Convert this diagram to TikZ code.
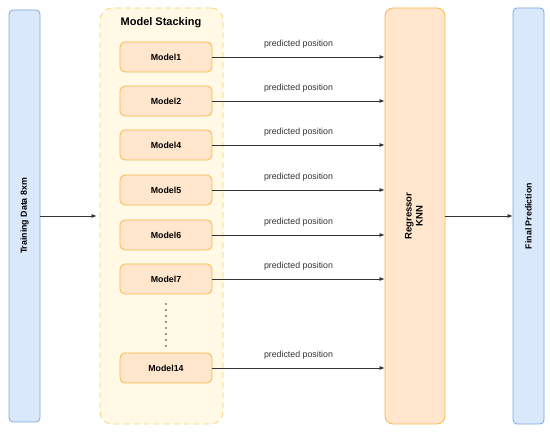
\documentclass[tikz,border=0pt]{standalone}
\usepackage{fontspec}
\setmainfont{Liberation Sans}
\usepackage{xcolor}
\usetikzlibrary{arrows.meta}

\definecolor{blueFill}{HTML}{DAE8FC}
\definecolor{blueLine}{HTML}{7EA6E0}
\definecolor{orangeFill}{HTML}{FFE6CC}
\definecolor{orangeLine}{HTML}{F7B849}
\definecolor{stackFill}{HTML}{FFF9E6}
\definecolor{stackLine}{HTML}{F5D27F}
\definecolor{arrowGray}{HTML}{333333}

\begin{document}
\begin{tikzpicture}[x=1pt, y=-1pt,
    databox/.style={draw=blueLine, fill=blueFill, rounded corners=4pt, line width=0.8pt,
        minimum width=31pt, inner sep=0pt},
    modelbox/.style={draw=orangeLine, fill=orangeFill, rounded corners=5pt, line width=0.8pt,
        minimum width=92pt, minimum height=30pt, inner sep=0pt,
        font=\fontsize{8.8}{10}\selectfont\bfseries},
    flow/.style={-{Latex[length=5pt,width=4pt]}, draw=arrowGray, line width=0.7pt},
    predlabel/.style={above=5pt, font=\fontsize{8.8}{10}\selectfont, text=arrowGray}]
    \useasboundingbox (0,0) rectangle (550,433);

    % stacking container
    \node[draw=stackLine, fill=stackFill, dashed, dash pattern=on 6pt off 4pt, line width=0.8pt,
        rounded corners=12pt, minimum width=123pt, minimum height=416pt] (stack) at (161.5,216) {};
    \node[font=\fontsize{11}{13}\selectfont\bfseries] (title) at (161,23) {Model Stacking};

    % input and output
    \node[databox, minimum height=412pt] (train) at (24.5,216)
        {\rotatebox{90}{\fontsize{8.8}{10}\selectfont\bfseries Training Data 8xm}};
    \node[draw=orangeLine, fill=orangeFill, rounded corners=8pt, line width=0.8pt,
        minimum width=60pt, minimum height=416pt] (reg) at (415,216)
        {\rotatebox{90}{\fontsize{9.5}{11}\selectfont\bfseries\begin{tabular}{c}Regressor\\KNN\end{tabular}}};
    \node[databox, minimum height=416pt] (final) at (528.5,216)
        {\rotatebox{90}{\fontsize{8.8}{10}\selectfont\bfseries Final Prediction}};

    % base models
    \foreach \name/\ypos in {1/57, 2/101, 4/145, 5/190, 6/235, 7/279, 14/368} {
        \node[modelbox] (m\name) at (166,\ypos) {Model\name};
        \draw[flow] (m\name.east) -- node[predlabel] {predicted position} (m\name.east -| reg.west);
    }
    \foreach \ydot in {304,310,...,346}
        \fill[arrowGray] (166,\ydot) circle (0.9pt);

    \draw[flow] (train.east) -- ([xshift=-3pt]stack.west);
    \draw[flow] (reg.east) -- (final.west);
\end{tikzpicture}
\end{document}
